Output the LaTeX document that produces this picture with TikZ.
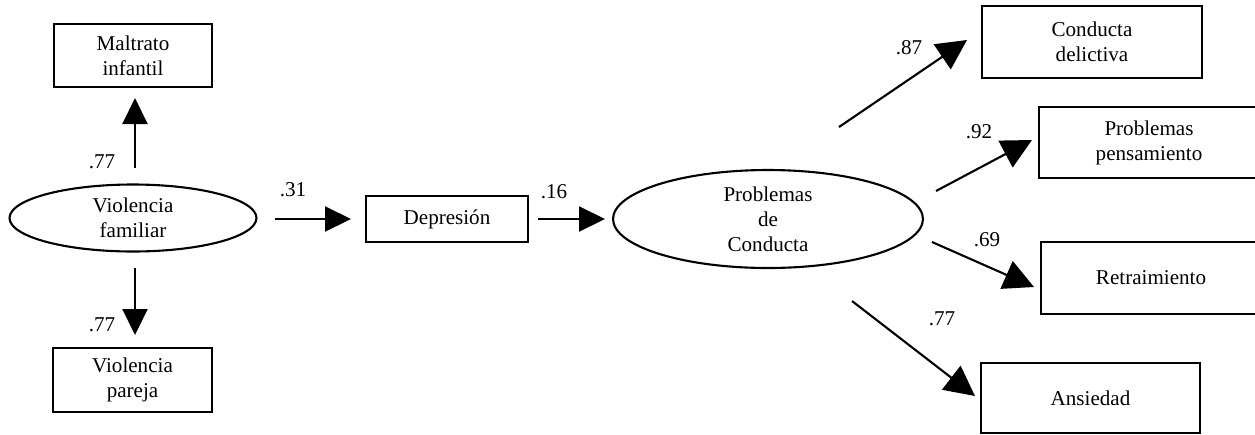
\documentclass[tikz,border=0pt]{standalone}
\usepackage{fontspec}
\setmainfont{Liberation Serif}
\usetikzlibrary{arrows.meta,shapes.geometric}
\begin{document}
\begin{tikzpicture}[x=0.02cm, y=-0.02cm, line width=1.2pt,
    caja/.style={draw, rectangle, align=center, inner sep=0pt, font=\fontsize{12}{14.2}\selectfont},
    elipse/.style={draw, ellipse, align=center, inner sep=0pt, font=\fontsize{12}{14.2}\selectfont},
    flecha/.style={-{Triangle[length=0.52cm, width=0.5cm]}},
    flechad/.style={-{Triangle[length=0.6cm, width=0.6cm]}},
    peso/.style={font=\fontsize{12}{14.2}\selectfont}]
    \clip (0,0) rectangle (1255,434);

    % Variable latente de la izquierda y sus indicadores
    \node[elipse, minimum width=4.94cm, minimum height=1.34cm] (vf) at (133,218) {Violencia\\familiar};
    \node[caja, minimum width=3.16cm, minimum height=1.26cm] (mi) at (133,55.5) {Maltrato\\infantil};
    \node[caja, minimum width=3.18cm, minimum height=1.28cm] (vp) at (132.5,380) {Violencia\\pareja};

    % Mediador
    \node[caja, minimum width=3.24cm, minimum height=0.92cm] (dep) at (447,219) {Depresión};

    % Variable latente de la derecha y sus indicadores
    \node[elipse, minimum width=6.2cm, minimum height=1.96cm] (pc) at (768,219) {Problemas\\de\\Conducta};
    \node[caja, minimum width=4.4cm, minimum height=1.44cm] (cd) at (1092,42) {Conducta\\delictiva};
    \node[caja, minimum width=4.4cm, minimum height=1.42cm] (pp) at (1149,142.5) {Problemas\\pensamiento};
    \node[caja, minimum width=4.4cm, minimum height=1.44cm] (re) at (1151,278) {Retraimiento};
    \node[caja, minimum width=4.38cm, minimum height=1.4cm] (an) at (1090.5,398) {Ansiedad};

    % Extremos de las flechas (no tocan los nodos)
    \coordinate (vf-mi) at (135,168);  \coordinate (mi-in) at (135,98);
    \coordinate (vf-vp) at (135,268);  \coordinate (vp-in) at (135,335);
    \coordinate (vf-dep) at (275,219); \coordinate (dep-in) at (351,219);
    \coordinate (dep-pc) at (538,219); \coordinate (pc-in) at (605,219);
    \coordinate (pc-cd) at (839,127);  \coordinate (cd-in) at (967,40);
    \coordinate (pc-pp) at (936,191);  \coordinate (pp-in) at (1032,140);
    \coordinate (pc-re) at (932,242);  \coordinate (re-in) at (1034,287);
    \coordinate (pc-an) at (852,301);  \coordinate (an-in) at (975,396);

    \draw[flecha] (vf-mi) -- (mi-in);
    \draw[flecha] (vf-vp) -- (vp-in);
    \draw[flecha] (vf-dep) -- (dep-in);
    \draw[flecha] (dep-pc) -- (pc-in);
    \draw[flechad] (pc-cd) -- (cd-in);
    \draw[flechad] (pc-pp) -- (pp-in);
    \draw[flechad] (pc-re) -- (re-in);
    \draw[flechad] (pc-an) -- (an-in);

    % Pesos
    \node[peso] (w1) at (102,162) {.77};
    \node[peso] (w2) at (102,325) {.77};
    \node[peso] (w3) at (293,190) {.31};
    \node[peso] (w4) at (554,192) {.16};
    \node[peso] (w5) at (909,48) {.87};
    \node[peso] (w6) at (979,132) {.92};
    \node[peso] (w7) at (987,240) {.69};
    \node[peso] (w8) at (942,319) {.77};
\end{tikzpicture}
\end{document}
